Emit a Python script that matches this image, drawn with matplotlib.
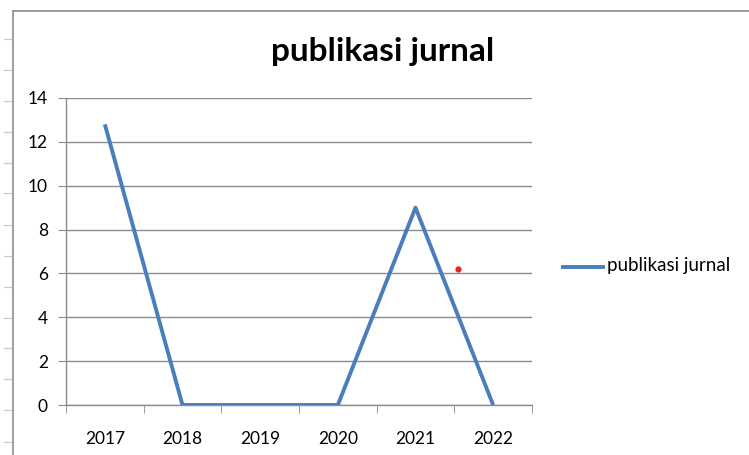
import matplotlib
matplotlib.use("Agg")
import matplotlib.pyplot as plt
from matplotlib.lines import Line2D

categories = ["2017", "2018", "2019", "2020", "2021", "2022"]
values = [12.8, 0, 0, 0, 9, 0]
stray_x = [4.55]
stray_y = [6.2]
yticks = [0, 2, 4, 6, 8, 10, 12, 14]
title = "publikasi jurnal"
series_name = "publikasi jurnal"

W, H = 749, 455
fig = plt.figure(figsize=(W / 100, H / 100), dpi=100)
plt.rcParams['font.family'] = ['Lato', 'DejaVu Sans']

# spreadsheet decoration: chart border and row lines at left
fig.add_artist(Line2D([13 / W, 13 / W], [0, 1 - 11 / H], color="#8c8c8c", lw=1.2))
fig.add_artist(Line2D([13 / W, 1], [1 - 11 / H, 1 - 11 / H], color="#8c8c8c", lw=1.2))
for yy in [39, 70, 101, 132, 163, 193, 225, 256, 287, 318, 348, 379, 410, 442]:
    fig.add_artist(Line2D([4 / W, 11 / W], [1 - yy / H, 1 - yy / H], color="#c8c8c8", lw=0.8))

x0, x1, y0, y1 = 66, 532, 98, 405
ax = fig.add_axes([x0 / W, 1 - y1 / H, (x1 - x0) / W, (y1 - y0) / H])
xs = list(range(len(categories)))
ax.plot(xs, values, color="#4a7ebb", lw=2.8, solid_capstyle="butt", label=series_name, zorder=3)
ax.scatter(stray_x, stray_y, color="#e8231f", s=12, zorder=4)

ax.set_xlim(-0.5, len(categories) - 0.5)
ax.set_ylim(0, 14)
ax.set_yticks(yticks)
ax.set_yticklabels([str(v) for v in yticks], fontsize=12.5)
ax.set_xticks(xs)
ax.set_xticklabels(categories, fontsize=12.5)
ax.set_xticks([i - 0.5 for i in range(len(categories) + 1)], minor=True)
ax.tick_params(axis="x", which="major", length=0, pad=19)
ax.tick_params(axis="x", which="minor", length=6, color="#8c8c8c", direction="out")
ax.tick_params(axis="y", length=6, color="#8c8c8c", pad=7)
ax.grid(axis="y", color="#8c8c8c", lw=1.0)
ax.set_axisbelow(True)
for s in ["top", "right"]:
    ax.spines[s].set_visible(False)
for s in ["left", "bottom"]:
    ax.spines[s].set_color("#8c8c8c")
    ax.spines[s].set_linewidth(1.0)

fig.text(383 / W, 1 - 52 / H, title, ha="center", va="center", fontsize=24, fontweight="bold")

# legend
fig.add_artist(Line2D([563 / W, 603 / W], [1 - 267 / H, 1 - 267 / H], color="#4a7ebb", lw=2.8))
fig.text(607 / W, 1 - 266 / H, series_name, ha="left", va="center", fontsize=13.5)

fig.savefig("out.png", dpi=100)
